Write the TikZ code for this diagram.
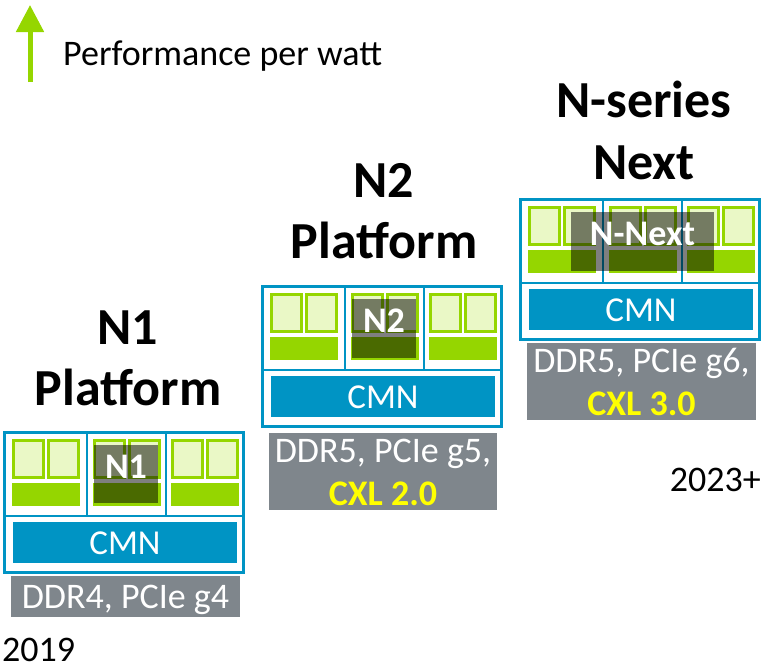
\documentclass[tikz,border=0pt]{standalone}
\usepackage{fontspec}
\setmainfont{Carlito}
\usetikzlibrary{arrows.meta}
\definecolor{armblue}{HTML}{0094C4}
\definecolor{armgreen}{HTML}{95D600}
\definecolor{lightgreen}{HTML}{EAF8C6}
\definecolor{greybox}{HTML}{7F868C}
\definecolor{cxlyellow}{HTML}{FFFF00}
\tikzset{
  outerbox/.style={draw=armblue, line width=3pt},
  sepline/.style={draw=armblue, line width=1.5pt},
  coresq/.style={fill=lightgreen, draw=armgreen, line width=2.5pt},
  corebar/.style={fill=armgreen},
  cmnbox/.style={fill=armblue},
  shade/.style={fill=black, fill opacity=0.5},
  greyb/.style={fill=greybox},
  title/.style={font=\fontsize{52}{52}\selectfont\bfseries, anchor=base, inner sep=0pt},
  chiplabel/.style={font=\fontsize{36}{36}\selectfont\bfseries, text=white, anchor=base, inner sep=0pt},
  cmntext/.style={font=\fontsize{35}{35}\selectfont, text=white, anchor=base, inner sep=0pt},
  feattext/.style={font=\fontsize{36}{36}\selectfont, text=white, anchor=base, inner sep=0pt},
  cxltext/.style={font=\fontsize{36}{36}\selectfont\bfseries, text=cxlyellow, anchor=base, inner sep=0pt},
  plain/.style={font=\fontsize{36}{36}\selectfont, inner sep=0pt}
}
\newcommand\coretile[1]{%
  \path[coresq] (#1+9.25,8.25) rectangle (#1+39.25,45.25);
  \path[coresq] (#1+44.25,8.25) rectangle (#1+74.25,45.25);
  \path[corebar] (#1+8,51) rectangle (#1+75.5,74);
}
\newcommand\platframe{%
  \coretile{0}
  \coretile{81}
  \coretile{159}
  \draw[sepline] (83,0) -- (83,84);
  \draw[sepline] (162,0) -- (162,84);
  \draw[sepline] (0,84) -- (239,84);
  \path[cmnbox] (9,90) rectangle (233,131);
  \draw[outerbox] (0,0) rectangle (239,140);
}
\begin{document}
\begin{tikzpicture}[x=1pt,y=-1pt]
\useasboundingbox (0,0) rectangle (761,670);
% legend arrow
\coordinate (arrowbase) at (30,82);
\coordinate (arrowtip) at (30,5);
\draw[armgreen, line width=5pt, -{Triangle[width=27pt,length=27pt]}] (arrowbase) -- (arrowtip);
\node[plain, anchor=base west] (perf) at (63,65) {Performance per watt};
% N1 platform
\begin{scope}[shift={(4,432)}]
  \platframe
  \path[shade] (90,13) rectangle (154,71);
  \node[chiplabel] (n1chip) at (122,46) {N1};
  \node[cmntext] (n1cmn) at (121,122) {CMN};
  \path[greyb] (7,144) rectangle (236,185);
  \node[feattext] (n1feat) at (121.5,176) {DDR4, PCIe g4};
\end{scope}
\node[title] (n1a) at (128,344) {N1};
\node[title] (n1b) at (128,405) {Platform};
% N2 platform
\begin{scope}[shift={(262,286)}]
  \platframe
  \path[shade] (90,13) rectangle (154,72);
  \node[chiplabel] (n2chip) at (122,46) {N2};
  \node[cmntext] (n2cmn) at (121,122) {CMN};
  \path[greyb] (7,147) rectangle (235,224);
  \node[feattext] (n2feat) at (121,176) {DDR5, PCIe g5,};
  \node[cxltext] (n2cxl) at (121,219) {CXL 2.0};
\end{scope}
\node[title] (n2a) at (384,197) {N2};
\node[title] (n2b) at (384,258) {Platform};
% N-series Next
\begin{scope}[shift={(520,199)}]
  \platframe
  \path[shade] (51,13) rectangle (194,72);
  \node[chiplabel] (n3chip) at (122.5,46) {N-Next};
  \node[cmntext] (n3cmn) at (121,122) {CMN};
  \path[greyb] (7,144) rectangle (236,221);
  \node[feattext] (n3feat) at (121.5,173) {DDR5, PCIe g6,};
  \node[cxltext] (n3cxl) at (121.5,216) {CXL 3.0};
\end{scope}
\node[title] (n3a) at (644,117) {N-series};
\node[title] (n3b) at (644,179) {Next};
% years
\node[plain, anchor=base west] (y2019) at (2,661) {2019};
\node[plain, anchor=base east] (y2023) at (761,491) {2023+};
\end{tikzpicture}
\end{document}
